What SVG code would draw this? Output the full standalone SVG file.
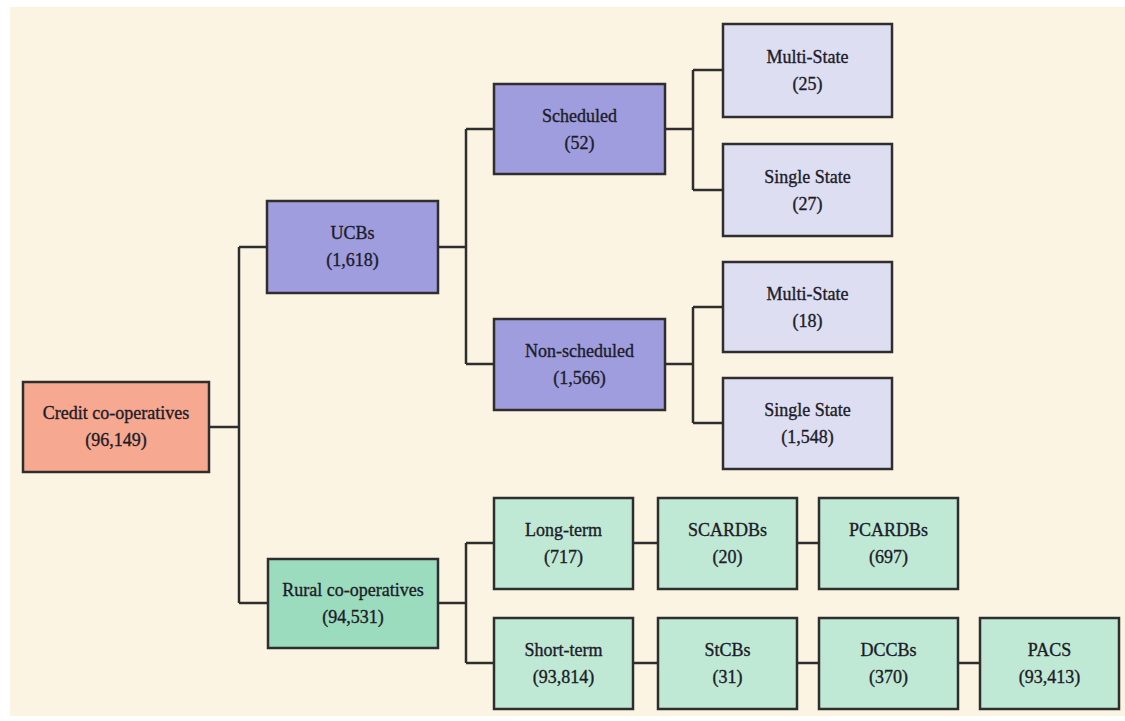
<svg xmlns="http://www.w3.org/2000/svg" width="1125" height="721" viewBox="0 0 1125 721">
<style>
  .box{stroke:#2e2e2e;stroke-width:2.5}
  .root{fill:#f6a891}
  .mid{fill:#a09dde}
  .leaf{fill:#dedef3}
  .rural{fill:#9cdcbe}
  .green{fill:#c0e9d5}
  .lbl{font-family:"Liberation Serif","Times New Roman",serif;font-size:18px;fill:#1c1c28;stroke:#1c1c28;stroke-width:0.35;text-anchor:middle}
  .conn{stroke:#2e2e2e;stroke-width:2.5;fill:none}
</style>
<rect x="0" y="0" width="1125" height="721" fill="#ffffff"/>
<rect x="10" y="7" width="1115" height="709" fill="#fcf4e2"/>
<g id="connectors" class="conn">
  <path d="M209 427H239M239 247V603M239 247H267M239 603H268"/>
  <path d="M438 247H466M466 129V364M466 129H494M466 364H494"/>
  <path d="M665 129H693M693 70V190M693 70H723M693 190H723"/>
  <path d="M665 364H693M693 307V423M693 307H723M693 423H723"/>
  <path d="M438 603H466M466 543V663M466 543H494M466 663H494"/>
  <path d="M633 543H658M797 543H819"/>
  <path d="M633 663H658M797 663H819M958 663H980"/>
</g>
<g id="credit"><rect class="box root" x="23" y="382" width="186" height="90"/><text class="lbl" x="116" y="419">Credit co-operatives<tspan x="116" dy="27">(96,149)</tspan></text></g>
<g id="ucbs"><rect class="box mid" x="267" y="201" width="171" height="92"/><text class="lbl" x="352.5" y="239">UCBs<tspan x="352.5" dy="27">(1,618)</tspan></text></g>
<g id="rural"><rect class="box rural" x="268" y="559" width="170" height="89"/><text class="lbl" x="353" y="596">Rural co-operatives<tspan x="353" dy="27">(94,531)</tspan></text></g>
<g id="scheduled"><rect class="box mid" x="494" y="84" width="171" height="90"/><text class="lbl" x="579.5" y="122">Scheduled<tspan x="579.5" dy="27">(52)</tspan></text></g>
<g id="nonscheduled"><rect class="box mid" x="494" y="319" width="171" height="91"/><text class="lbl" x="579.5" y="357">Non-scheduled<tspan x="579.5" dy="27">(1,566)</tspan></text></g>
<g id="multistate25"><rect class="box leaf" x="723" y="24" width="169" height="93"/><text class="lbl" x="807.5" y="63">Multi-State<tspan x="807.5" dy="27">(25)</tspan></text></g>
<g id="singlestate27"><rect class="box leaf" x="723" y="144" width="169" height="92"/><text class="lbl" x="807.5" y="183">Single State<tspan x="807.5" dy="27">(27)</tspan></text></g>
<g id="multistate18"><rect class="box leaf" x="723" y="262" width="169" height="90"/><text class="lbl" x="807.5" y="300">Multi-State<tspan x="807.5" dy="27">(18)</tspan></text></g>
<g id="singlestate1548"><rect class="box leaf" x="723" y="378" width="169" height="91"/><text class="lbl" x="807.5" y="416">Single State<tspan x="807.5" dy="27">(1,548)</tspan></text></g>
<g id="longterm"><rect class="box green" x="494" y="498" width="139" height="91"/><text class="lbl" x="563.5" y="536">Long-term<tspan x="563.5" dy="27">(717)</tspan></text></g>
<g id="scardbs"><rect class="box green" x="658" y="498" width="139" height="91"/><text class="lbl" x="727.5" y="536">SCARDBs<tspan x="727.5" dy="27">(20)</tspan></text></g>
<g id="pcardbs"><rect class="box green" x="819" y="498" width="139" height="91"/><text class="lbl" x="888.5" y="536">PCARDBs<tspan x="888.5" dy="27">(697)</tspan></text></g>
<g id="shortterm"><rect class="box green" x="494" y="618" width="139" height="91"/><text class="lbl" x="563.5" y="656">Short-term<tspan x="563.5" dy="27">(93,814)</tspan></text></g>
<g id="stcbs"><rect class="box green" x="658" y="618" width="139" height="91"/><text class="lbl" x="727.5" y="656">StCBs<tspan x="727.5" dy="27">(31)</tspan></text></g>
<g id="dccbs"><rect class="box green" x="819" y="618" width="139" height="91"/><text class="lbl" x="888.5" y="656">DCCBs<tspan x="888.5" dy="27">(370)</tspan></text></g>
<g id="pacs"><rect class="box green" x="980" y="618" width="139" height="91"/><text class="lbl" x="1049.5" y="656">PACS<tspan x="1049.5" dy="27">(93,413)</tspan></text></g>
</svg>
